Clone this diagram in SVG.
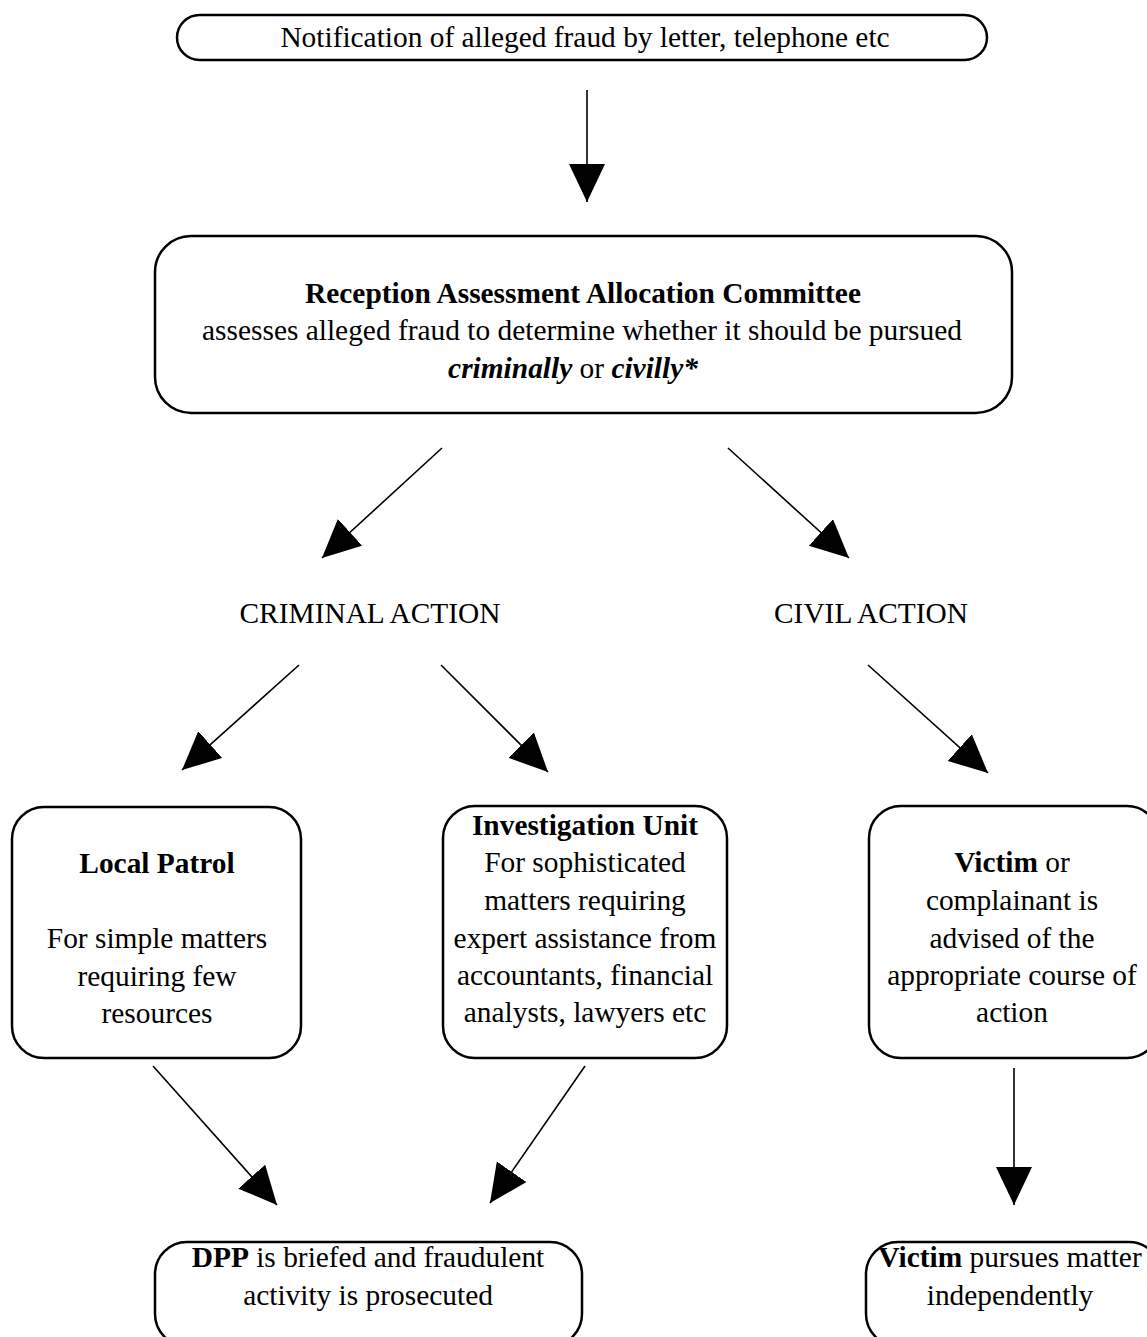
<svg xmlns="http://www.w3.org/2000/svg" width="1147" height="1337" viewBox="0 0 1147 1337">
<style>
text{font-family:"Liberation Serif","Times New Roman",serif;font-size:29.4px;fill:#000;text-anchor:middle}
.b{font-weight:bold}
.i{font-style:italic;font-weight:bold}
.box{fill:#fff;stroke:#000;stroke-width:2.5}
.c{stroke:#000;stroke-width:1.6;fill:none;marker-end:url(#ah)}
</style>
<defs>
<marker id="ah" markerUnits="userSpaceOnUse" markerWidth="40" markerHeight="38" refX="38" refY="18" orient="auto">
<path d="M0,0 L38,18 L0,36 z" fill="#000"/>
</marker>
</defs>
<rect width="1147" height="1337" fill="#fff"/>
<g id="connectors">
<line class="c" x1="587" y1="90" x2="587" y2="202"/>
<line class="c" x1="442" y1="448" x2="322" y2="558"/>
<line class="c" x1="728" y1="448" x2="849" y2="558"/>
<line class="c" x1="299" y1="665" x2="182" y2="770"/>
<line class="c" x1="441" y1="665" x2="548" y2="772"/>
<line class="c" x1="868" y1="665" x2="988" y2="773"/>
<line class="c" x1="153" y1="1066" x2="277" y2="1205"/>
<line class="c" x1="585" y1="1066" x2="490" y2="1203"/>
<line class="c" x1="1014" y1="1068" x2="1014" y2="1205"/>
</g>
<g id="notification">
<rect class="box" x="177" y="15" width="810" height="45" rx="22.5"/>
<text x="585" y="47">Notification of alleged fraud by letter, telephone etc</text>
</g>
<g id="committee">
<rect class="box" x="155" y="236" width="857" height="177" rx="36"/>
<text x="583" y="303" class="b">Reception Assessment Allocation Committee</text>
<text x="582" y="340">assesses alleged fraud to determine whether it should be pursued</text>
<text x="573" y="378"><tspan class="i">criminally</tspan>  or <tspan class="i">civilly*</tspan></text>
</g>
<g id="criminal-label"><text x="370" y="623">CRIMINAL ACTION</text></g>
<g id="civil-label"><text x="871" y="623">CIVIL ACTION</text></g>
<g id="local-patrol">
<rect class="box" x="12" y="807" width="289" height="251" rx="32"/>
<text x="157" y="873" class="b">Local Patrol</text>
<text x="157" y="948">For simple matters</text>
<text x="157" y="986">requiring few</text>
<text x="157" y="1023">resources</text>
</g>
<g id="investigation-unit">
<rect class="box" x="443" y="806" width="284" height="252" rx="32"/>
<text x="585" y="835" class="b">Investigation Unit</text>
<text x="585" y="872">For sophisticated</text>
<text x="585" y="910">matters requiring</text>
<text x="585" y="948">expert assistance from</text>
<text x="585" y="985">accountants, financial</text>
<text x="585" y="1022">analysts, lawyers etc</text>
</g>
<g id="victim-advised">
<rect class="box" x="869" y="806" width="290" height="252" rx="32"/>
<text x="1012" y="872"><tspan class="b">Victim</tspan> or</text>
<text x="1012" y="910">complainant is</text>
<text x="1012" y="948">advised of the</text>
<text x="1012" y="985">appropriate course of</text>
<text x="1012" y="1022">action</text>
</g>
<g id="dpp">
<rect class="box" x="155" y="1242" width="427" height="104" rx="32"/>
<text x="368" y="1267"><tspan class="b">DPP</tspan> is briefed and fraudulent</text>
<text x="368" y="1305">activity is prosecuted</text>
</g>
<g id="victim-pursues">
<rect class="box" x="866" y="1242" width="295" height="104" rx="32"/>
<text x="1010" y="1267"><tspan class="b">Victim</tspan> pursues matter</text>
<text x="1010" y="1305">independently</text>
</g>
</svg>
